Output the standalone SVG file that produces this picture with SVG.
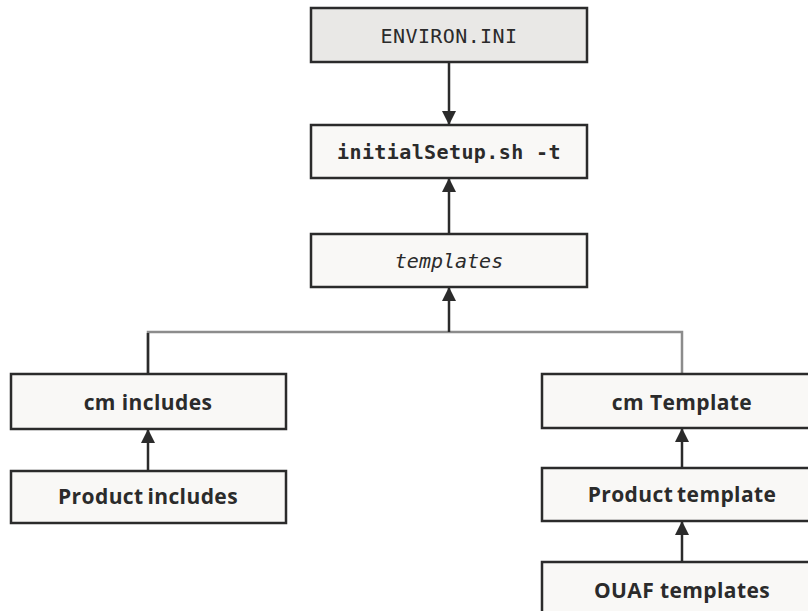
<svg xmlns="http://www.w3.org/2000/svg" width="808" height="611" viewBox="0 0 808 611">
<style>
.box{fill:#f9f8f6;stroke:#2b2b2b;stroke-width:2.5}
.env{fill:#e9e8e6}
.mono{font-family:"DejaVu Sans Mono","Liberation Mono",monospace;font-size:20px;fill:#2b2b2b;text-anchor:middle}
.sans{font-family:"Open Sans","Noto Sans",sans-serif;font-weight:700;font-size:21px;fill:#2b2b2b;text-anchor:middle;letter-spacing:0.4px}
.tight{word-spacing:-2px}
.ln{stroke:#2b2b2b;stroke-width:2.5;fill:none}
.gl{stroke:#8c8c8c;stroke-width:2.5;fill:none}
</style>
<defs>
<marker id="ah" viewBox="0 0 14 14" refX="14" refY="7" markerWidth="14" markerHeight="14" markerUnits="userSpaceOnUse" orient="auto">
<path d="M0,0 L14,7 L0,14 Z" fill="#2b2b2b"/>
</marker>
</defs>
<rect width="808" height="611" fill="#ffffff"/>
<g id="connectors">
<line class="ln" x1="449" y1="62" x2="449" y2="125" marker-end="url(#ah)"/>
<line class="ln" x1="449" y1="234" x2="449" y2="178" marker-end="url(#ah)"/>
<polyline class="gl" points="148,374 148,332 682,332 682,374"/>
<line class="ln" x1="148" y1="333" x2="148" y2="374"/>
<line class="ln" x1="449" y1="332" x2="449" y2="287" stroke-width="3" marker-end="url(#ah)"/>
<line class="ln" x1="148" y1="471" x2="148" y2="429" marker-end="url(#ah)"/>
<line class="ln" x1="682" y1="468" x2="682" y2="428" marker-end="url(#ah)"/>
<line class="ln" x1="682" y1="562" x2="682" y2="521" marker-end="url(#ah)"/>
</g>
<g id="environ">
<rect class="box env" x="311" y="8" width="276" height="54"/>
<text class="mono" x="449" y="43" letter-spacing="0.4">ENVIRON.INI</text>
</g>
<g id="initialSetup">
<rect class="box" x="311" y="125" width="276" height="53"/>
<text class="mono" x="449" y="159" font-weight="bold" font-size="21" letter-spacing="0.4">initialSetup.sh -t</text>
</g>
<g id="templates">
<rect class="box" x="311" y="234" width="276" height="53"/>
<text class="mono" x="449" y="268" font-style="italic" font-size="21">templates</text>
</g>
<g id="cmIncludes">
<rect class="box" x="11" y="374" width="275" height="55"/>
<text class="sans" x="148" y="410">cm includes</text>
</g>
<g id="productIncludes">
<rect class="box" x="11" y="471" width="275" height="52"/>
<text class="sans tight" x="148" y="504">Product includes</text>
</g>
<g id="cmTemplate">
<rect class="box" x="542" y="374" width="280" height="54"/>
<text class="sans" x="682" y="410">cm Template</text>
</g>
<g id="productTemplate">
<rect class="box" x="542" y="468" width="280" height="53"/>
<text class="sans tight" x="682" y="502">Product template</text>
</g>
<g id="ouafTemplates">
<rect class="box" x="542" y="562" width="280" height="60"/>
<text class="sans" x="682" y="598" letter-spacing="0.8">OUAF templates</text>
</g>
</svg>
